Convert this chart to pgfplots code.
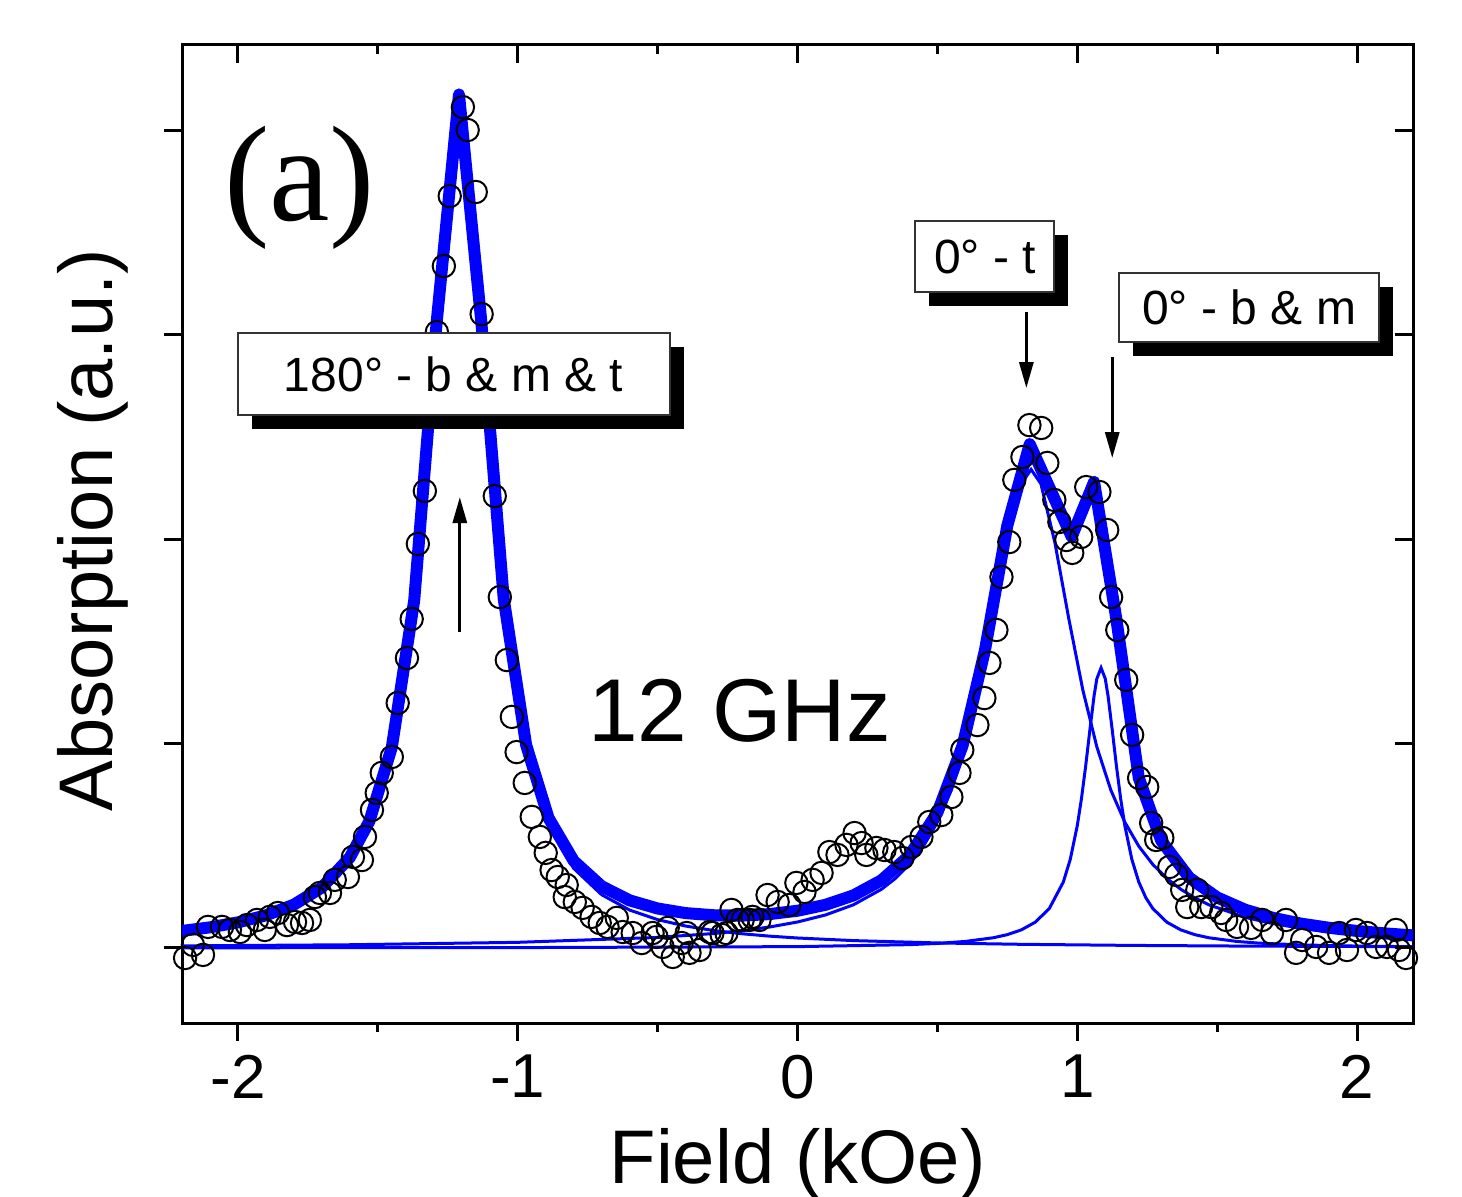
\documentclass[border=0pt]{standalone}
\usepackage{fontspec}
\setmainfont{Liberation Sans}
\newfontfamily\seriffont{Liberation Serif}
\usepackage{pgfplots}
\pgfplotsset{compat=1.18}
\usetikzlibrary{shadows,arrows.meta}

\begin{document}
\begin{tikzpicture}
\pgfplotsset{
  frame/.style={
    scale only axis, width=307.75pt, height=244.5pt,
    at={(0,0)}, anchor=south west,
    xmin=-2.2, xmax=2.2, ymin=-0.367, ymax=4.416,
    xtick={-2,-1,0,1,2}, minor xtick={-1.5,-0.5,0.5,1.5},
    ytick={0,1,2,3,4},
    major tick length=4.5pt, minor tick length=2.25pt,
    every tick/.style={black, line width=0.75pt},
  },
}
\tikzset{
  lbl/.style={draw=black!80, line width=0.5pt, fill=white, inner sep=0pt,
    general shadow={fill=black, shadow xshift=3.5pt, shadow yshift=-3.5pt},
    font=\fontsize{12}{14}\selectfont},
  arr/.style={line width=0.75pt, -{Triangle[length=6.5pt,width=3.5pt]}},
}
\begin{axis}[frame,
  axis line style={line width=0.75pt},
  xtick pos=left, ytick pos=left, tick align=outside,
  xticklabels={-2,-1,0,1,2}, yticklabels={},
  xticklabel style={font=\fontsize{15.5}{18}\selectfont, yshift=0pt},
  xlabel={Field (kOe)}, ylabel={Absorption (a.u.)},
  xlabel style={font=\fontsize{19}{22}\selectfont, at={(axis description cs:0.5,-0.1636)}, anchor=base},
  ylabel style={font=\fontsize{19}{22}\selectfont, at={(axis description cs:-0.0561,0.504)}, anchor=base},
]
% measured points
\addplot[black, only marks, mark=o, mark size=2.8pt, line width=0.5pt] coordinates {
(-2.189,-0.049) (-2.161,0.015) (-2.125,-0.034) (-2.107,0.103) (-2.057,0.103)
(-2.029,0.088) (-1.993,0.078) (-1.968,0.112) (-1.932,0.137) (-1.904,0.088)
(-1.886,0.152) (-1.857,0.171) (-1.825,0.112) (-1.796,0.127) (-1.771,0.122)
(-1.743,0.137) (-1.725,0.249) (-1.707,0.269) (-1.671,0.269) (-1.654,0.333)
(-1.607,0.347) (-1.589,0.445) (-1.557,0.430) (-1.546,0.543) (-1.521,0.675)
(-1.504,0.758) (-1.486,0.856) (-1.450,0.934) (-1.429,1.198) (-1.396,1.418)
(-1.379,1.609) (-1.357,1.976) (-1.332,2.235) (-1.307,2.778) (-1.289,3.012)
(-1.264,3.335) (-1.243,3.677) (-1.196,4.112) (-1.179,4.000) (-1.150,3.697)
(-1.129,3.100) (-1.104,2.680) (-1.082,2.210) (-1.064,1.716) (-1.039,1.408)
(-1.021,1.130) (-1.004,0.958) (-0.975,0.807) (-0.950,0.641) (-0.921,0.543)
(-0.900,0.465) (-0.879,0.381) (-0.857,0.347) (-0.832,0.249) (-0.825,0.308)
(-0.796,0.225) (-0.768,0.196) (-0.736,0.152) (-0.707,0.122) (-0.679,0.103)
(-0.646,0.147) (-0.625,0.078) (-0.589,0.073) (-0.557,0.024) (-0.518,0.073)
(-0.504,0.054) (-0.482,0.005) (-0.464,0.098) (-0.446,-0.044) (-0.414,0.024)
(-0.396,0.073) (-0.386,-0.024) (-0.350,-0.010) (-0.314,0.078) (-0.304,0.073)
(-0.271,0.064) (-0.254,0.073) (-0.236,0.186) (-0.214,0.137) (-0.196,0.137)
(-0.171,0.137) (-0.161,0.152) (-0.136,0.137) (-0.107,0.259) (-0.071,0.225)
(-0.029,0.210) (-0.004,0.318) (0.025,0.274) (0.054,0.333) (0.086,0.367)
(0.114,0.469) (0.143,0.455) (0.175,0.504) (0.204,0.562) (0.229,0.513)
(0.246,0.455) (0.282,0.489) (0.311,0.479) (0.346,0.469) (0.375,0.440)
(0.407,0.494) (0.443,0.543) (0.471,0.616) (0.514,0.650) (0.550,0.738)
(0.579,0.856) (0.589,0.968) (0.643,1.090) (0.668,1.222) (0.686,1.394)
(0.711,1.555) (0.729,1.814) (0.757,1.985) (0.775,2.289) (0.804,2.401)
(0.829,2.557) (0.871,2.543) (0.893,2.372) (0.918,2.191) (0.936,2.083)
(0.961,1.995) (0.982,1.932) (1.014,2.010) (1.032,2.254) (1.079,2.230)
(1.107,2.044) (1.121,1.716) (1.143,1.555) (1.175,1.311) (1.196,1.042)
(1.221,0.831) (1.250,0.787) (1.264,0.611) (1.282,0.528) (1.304,0.538)
(1.329,0.396) (1.354,0.357) (1.375,0.284) (1.393,0.200) (1.429,0.284)
(1.443,0.200) (1.479,0.200) (1.514,0.171) (1.532,0.137) (1.571,0.103)
(1.621,0.098) (1.661,0.137) (1.696,0.073) (1.746,0.137) (1.782,-0.024)
(1.804,0.039) (1.854,0.005) (1.900,-0.024) (1.936,0.073) (1.964,-0.010)
(1.996,0.088) (2.036,0.073) (2.068,0.005) (2.107,0.005) (2.139,0.088)
(2.150,-0.010) (2.175,-0.049)
};
% fitted components
\addplot[blue, line width=0.75pt] coordinates {
(-2.2,0.0724) (-2.0,0.1126) (-1.9,0.1463) (-1.8,0.1976) (-1.7,0.2804) (-1.6,0.426)
(-1.53,0.6027) (-1.45,0.9628) (-1.37,1.679) (-1.29,3.034) (-1.21,4.150)
(-1.13,3.034) (-1.05,1.679) (-0.97,0.9628) (-0.89,0.6027) (-0.8,0.3893)
(-0.7,0.2602) (-0.6,0.1854) (-0.5,0.1385) (-0.4,0.1072) (-0.3,0.0854) (-0.2,0.0696)
(-0.1,0.0578) (0,0.0487) (0.2,0.036) (0.5,0.0245) (0.8,0.0178) (1.2,0.0124)
(1.6,0.0091) (2.2,0.0062)
};
\addplot[blue, line width=0.75pt] coordinates {
(-2.2,0.0101) (-1.6,0.0157) (-1.0,0.0275) (-0.5,0.0514) (-0.3,0.0705) (-0.2,0.0842)
(-0.1,0.1024) (0,0.127) (0.1,0.1613) (0.2,0.2112) (0.3,0.2869) (0.35,0.3401) (0.4,0.4084)
(0.45,0.4973) (0.5,0.615) (0.55,0.772) (0.6,0.983) (0.65,1.261) (0.7,1.608)
(0.75,1.982) (0.8,2.270) (0.835,2.34) (0.87,2.270) (0.92,1.982)
(0.97,1.608) (1.02,1.261) (1.07,0.983) (1.12,0.772) (1.17,0.615)
(1.22,0.4973) (1.27,0.4084) (1.32,0.3401) (1.37,0.2869) (1.42,0.2449) (1.47,0.2112)
(1.6,0.1497) (1.7,0.1188) (1.8,0.0964) (1.9,0.0797) (2.0,0.067) (2.1,0.0571) (2.2,0.0492)
};
\addplot[blue, line width=0.75pt] coordinates {
(-2.2,0.0007) (-1.0,0.0018) (0,0.0065) (0.4,0.0162) (0.5,0.0221) (0.6,0.0319)
(0.7,0.0499) (0.75,0.0651) (0.8,0.0884) (0.85,0.1262) (0.9,0.1928) (0.95,0.322)
(0.975,0.4335) (1.0,0.598) (1.015,0.7307) (1.03,0.8895) (1.045,1.0656) (1.06,1.2325)
(1.07,1.317) (1.085,1.37) (1.1,1.317) (1.11,1.2325) (1.125,1.0656) (1.14,0.8895)
(1.155,0.7307) (1.17,0.598) (1.195,0.4335) (1.22,0.322) (1.245,0.2459) (1.27,0.1928)
(1.32,0.1262) (1.37,0.0884) (1.42,0.0651) (1.47,0.0499) (1.57,0.0319) (1.65,0.0236)
(1.8,0.0149) (2.0,0.0091) (2.2,0.0061)
};
% cumulative fit
\addplot[blue, line width=3pt, line join=round] coordinates {
(-2.2,0.0832) (-2.1,0.1008) (-2.0,0.125) (-1.9,0.1596) (-1.8,0.2119)
(-1.7,0.2959) (-1.6,0.4428) (-1.53,0.6204) (-1.45,0.9818) (-1.37,1.700)
(-1.29,3.056) (-1.21,4.174) (-1.13,3.060) (-1.05,1.707) (-0.97,0.993)
(-0.89,0.636) (-0.8,0.426) (-0.7,0.3017) (-0.6,0.2327) (-0.5,0.193)
(-0.4,0.1705) (-0.3,0.160) (-0.2,0.158) (-0.1,0.1656) (0,0.182)
(0.1,0.211) (0.2,0.257) (0.3,0.331) (0.4,0.452) (0.5,0.662)
(0.59,0.989) (0.67,1.456) (0.75,2.066) (0.83,2.464) (0.98,2.011)
(1.06,2.279) (1.14,1.606) (1.22,0.831) (1.3,0.525) (1.4,0.344)
(1.5,0.247) (1.6,0.187) (1.7,0.147) (1.8,0.119) (1.9,0.0986)
(2.0,0.0831) (2.1,0.0711) (2.2,0.0615)
};
\end{axis}
% mirrored ticks on top and right, and the annotations above the curves
\begin{axis}[frame, axis line style={draw=none},
  xtick pos=right, ytick pos=right, tick align=inside,
  xticklabels={}, yticklabels={}]
\addplot[draw=none] coordinates {(0,0)};
\draw[arr] (axis cs:-1.207,1.545) -- (axis cs:-1.207,2.205);
\draw[arr] (axis cs:0.818,3.110) -- (axis cs:0.818,2.738);
\draw[arr] (axis cs:1.125,2.890) -- (axis cs:1.125,2.396);
\node[lbl, minimum width=108pt, minimum height=20.5pt] at (axis cs:-1.229,2.807) {180° - b \& m \& t};
\node[lbl, minimum width=34.75pt, minimum height=17.75pt] at (axis cs:0.670,3.381) {0° - t};
\node[lbl, minimum width=65pt, minimum height=17.25pt] at (axis cs:1.614,3.132) {0° - b \& m};
\node[font=\fontsize{22.3}{26}\selectfont] at (axis cs:-0.207,1.159) {12 GHz};
\node[font=\seriffont\fontsize{34}{40}\selectfont] at (axis cs:-1.779,3.719) {(a)};
\end{axis}
\pgfresetboundingbox
\path[use as bounding box] (-45.5pt,-43.25pt) rectangle (320pt,255.75pt);
\end{tikzpicture}
\end{document}
